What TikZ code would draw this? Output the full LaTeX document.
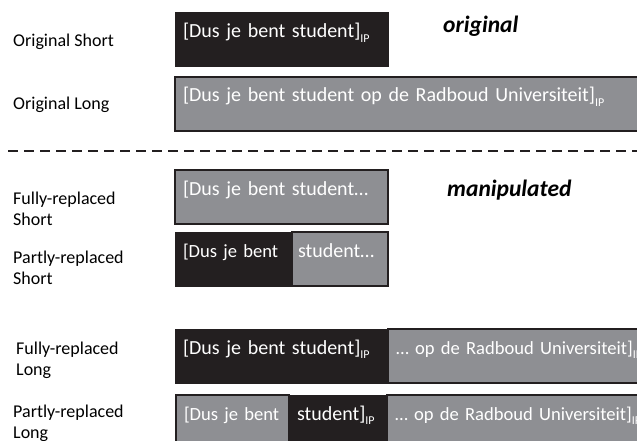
\documentclass[tikz,border=0pt]{standalone}
\usepackage{fontspec}
\setmainfont{Carlito}
\usepackage{tikz}
\usetikzlibrary{positioning}
\definecolor{darkfill}{HTML}{231F20}
\definecolor{greyfill}{HTML}{8E8F93}
\newcommand{\ipsub}{\raisebox{-4.5pt}{\fontsize{12}{12}\selectfont IP}}
\tikzset{
  seg/.style={anchor=north west, outer sep=0pt, inner xsep=8pt, inner ysep=0pt,
    text height=25pt, text depth=29pt, align=left, text=white,
    font=\fontsize{20}{22}\selectfont},
  narrow/.style={font=\fontsize{18.6}{22}\selectfont},
  blackseg/.style={seg, fill=darkfill, draw=darkfill, line width=1pt},
  greyseg/.style={seg, fill=greyfill, draw=darkfill, line width=2pt},
  rowlabel/.style={anchor=base west, align=left, inner sep=0pt,
    font=\fontsize{18}{21}\selectfont},
  grouplabel/.style={anchor=base west, inner sep=0pt,
    font=\fontsize{23.5}{25}\selectfont\bfseries\itshape}
}
\begin{document}
\begin{tikzpicture}[x=1pt,y=-1pt]
        \path[use as bounding box, clip] (0,0) rectangle (637,441);

        % original
        \node[rowlabel] (lblos) at (13,47) {Original Short};
        \node[rowlabel] (lblol) at (13,110) {Original Long};
        \node[blackseg, text width=197pt] (os) at (175,13) {[Dus je bent student]\ipsub};
        \node[greyseg, text width=480pt] (ol) at (175,77) {[Dus je bent student op de Radboud Universiteit]\ipsub};
        \node[grouplabel] (orig) at (443,33) {original};

        % separator
        \coordinate (sepl) at (8,151);
        \coordinate (sepr) at (637,151);
        \draw[darkfill, line width=1.6pt, dash pattern=on 10pt off 6pt] (sepl) -- (sepr);

        % manipulated short
        \node[rowlabel] (lblfs) at (13,225) {Fully-replaced\\Short};
        \node[rowlabel] (lblps) at (13,284) {Partly-replaced\\Short};
        \node[greyseg, text width=197pt] (fs) at (175,170) {[Dus je bent student…};
        \node[blackseg, narrow, text width=101pt] (psa) at (175,232) {\mbox{[Dus je bent}};
        \node[greyseg, text width=84pt, inner xsep=6pt, right=0pt of psa] (psb) {student…};
        \node[grouplabel] (manip) at (447,196) {manipulated};

        % manipulated long
        \node[rowlabel] (lblfl) at (16,375) {Fully-replaced\\Long};
        \node[rowlabel] (lblpl) at (13,438) {Partly-replaced\\Long};
        \node[blackseg, text width=197pt] (fla) at (175,329) {[Dus je bent student]\ipsub};
        \node[greyseg, narrow, text width=300pt, right=0pt of fla] (flb) {\mbox{… op de Radboud Universiteit]\ipsub}};
        \node[greyseg, narrow, text width=97pt] (pla) at (176,395) {\mbox{[Dus je bent}};
        \node[blackseg, text width=82pt, right=0pt of pla] (plb) {student]\ipsub};
        \node[greyseg, narrow, text width=300pt, right=0pt of plb] (plc) {\mbox{… op de Radboud Universiteit]\ipsub}};
\end{tikzpicture}
\end{document}
